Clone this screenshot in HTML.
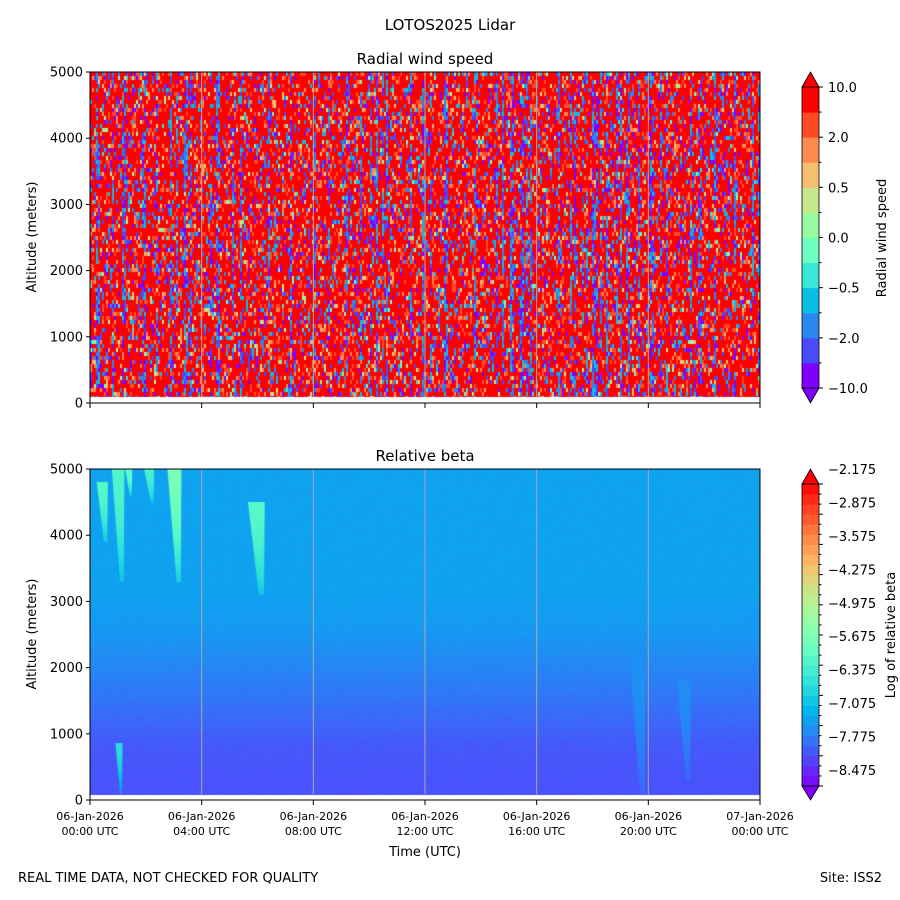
<!DOCTYPE html>
<html><head><meta charset="utf-8">
<style>
body{margin:0;background:#fff;}
#wrap{position:relative;width:900px;height:900px;font-family:"Liberation Sans","DejaVu Sans",sans-serif;}
svg text{font-family:"DejaVu Sans","Liberation Sans",sans-serif;}
canvas{position:absolute;}
</style></head><body>
<div id="wrap">
<canvas id="c1" width="670" height="331" style="left:90px;top:72px"></canvas>
<canvas id="c2" width="670" height="331" style="left:90px;top:469px"></canvas>
<svg id="s" width="900" height="900" style="position:absolute;left:0;top:0"></svg>
</div>
<script>
// ---- data ----
const timeTickLabels=["06-Jan-2026","06-Jan-2026","06-Jan-2026","06-Jan-2026","06-Jan-2026","06-Jan-2026","07-Jan-2026"];
const timeTickTimes=["00:00 UTC","04:00 UTC","08:00 UTC","12:00 UTC","16:00 UTC","20:00 UTC","00:00 UTC"];
const timeTickHours=[0,4,8,12,16,20,24];
const altTicks=[0,1000,2000,3000,4000,5000];
const windLevelColors=["#8000ff","#4a4af8","#2888f0","#0abfe6","#3ae6d6","#6cffc0","#98fba0","#c8e68a","#f4c070","#ff8a50","#ff4a26","#ff0000"];
const windTickLabels=["\u221210.0","\u22122.0","\u22120.5","0.0","0.5","2.0","10.0"];
const windLevelWeights=[5,4,3,2,1,0.8,0.8,1,2.5,5,9,66];
const betaTickLabels=["\u22128.475","\u22127.775","\u22127.075","\u22126.375","\u22125.675","\u22124.975","\u22124.275","\u22123.575","\u22122.875","\u22122.175"];
const betaBandAlt=[80,800,1300,2000,2600,3200,5000];
const betaBandValue=[-8.13,-8.08,-7.9,-7.65,-7.45,-7.37,-7.36];
const plumeStartHour=[0.3,0.85,1.3,2.0,2.85,5.75,0.95,19.4,21.1];
const plumeEndHour=[0.7,1.3,1.55,2.35,3.35,6.35,1.2,20.0,21.6];
const plumeTopAlt=[4800,5000,5000,5000,5000,4500,850,2300,1800];
const plumeBottomAlt=[3900,3300,4600,4500,3300,3100,100,100,300];
const plumeValue=[-6.0,-6.1,-5.9,-6.2,-5.6,-6.0,-6.6,-7.55,-7.6];

// ---- geometry ----
const X0=90,X1=760;
const xs=h=>X0+(h/24)*(X1-X0);
function ys(top){return a=>top+331-(a/5000)*331;}
const ys1=ys(72),ys2=ys(469);

function rainbow(t){t=Math.max(0,Math.min(1,t));
 const r=Math.min(1,Math.abs(2*t-0.5)),g=Math.sin(Math.PI*t),b=Math.cos(Math.PI*t/2);
 return [Math.round(255*r),Math.round(255*g),Math.round(255*b)];}
function betaColor(v){return rainbow((v+8.825)/6.65);}
function bgVal(a){let v=betaBandValue[betaBandValue.length-1];
 for(let b=0;b<betaBandAlt.length-1;b++){if(a>=betaBandAlt[b]&&a<betaBandAlt[b+1]){const f=(a-betaBandAlt[b])/(betaBandAlt[b+1]-betaBandAlt[b]);v=betaBandValue[b]+f*(betaBandValue[b+1]-betaBandValue[b]);break;}}
 if(a<betaBandAlt[0])v=betaBandValue[0];return v;}

// hash for texture only
function hh(i,j){let n=Math.imul(i,374761393)+Math.imul(j,668265263)|0;n=Math.imul(n^(n>>>13),1274126177);return ((n^(n>>>16))>>>0)/4294967296;}

// ---- top heatmap ----
(function(){
 const ctx=document.getElementById('c1').getContext('2d');
 ctx.fillStyle="#ff0000";ctx.fillRect(0,0,670,325);
 const tot=windLevelWeights.reduce((a,b)=>a+b,0);
 for(let i=0;i<335;i++){const colBias=hh(i,7)<0.22?0.5:0.03;
  for(let j=0;j<82;j++){
   let r=hh(i,j*3+1);let k;
   if(hh(i,Math.floor(j/3)+500)<colBias){k=Math.floor(hh(j,i+99)*4);}
   else{let acc=0;r*=tot;k=11;for(let q=0;q<12;q++){acc+=windLevelWeights[q];if(r<acc){k=q;break;}}}
   ctx.fillStyle=windLevelColors[k];ctx.fillRect(i*2,j*4,2,4);
  }}
 ctx.fillStyle="#fff";ctx.fillRect(0,325,670,6);
})();

// ---- bottom heatmap ----
(function(){
 const ctx=document.getElementById('c2').getContext('2d');
 const top=469;
 for(let y=0;y<331;y++){const a=(331-y)/331*5000;if(a<betaBandAlt[0]){ctx.fillStyle="#fff";ctx.fillRect(0,y,670,1);continue;}
  const v=bgVal(a);
  for(let x=0;x<670;x+=2){const vv=v+(hh(x,y)-0.5)*0.12;const c=betaColor(vv);ctx.fillStyle=`rgb(${c[0]},${c[1]},${c[2]})`;ctx.fillRect(x,y,2,1);}
 }
 for(let p=0;p<plumeValue.length;p++){
  const x0=xs(plumeStartHour[p])-X0,x1=xs(plumeEndHour[p])-X0;
  const y0=ys2(plumeTopAlt[p])-top,y1=ys2(plumeBottomAlt[p])-top;
  for(let y=Math.floor(y0);y<y1;y++){const f=(y-y0)/(y1-y0);const w=(x1-x0)*(1-0.7*f);const cx=x0+(x1-x0)*(0.35+0.3*f);
   const a=(331-y)/331*5000;const bg=bgVal(a);const v=plumeValue[p]+(bg-plumeValue[p])*0.7*f*f;
   const c=betaColor(v);ctx.fillStyle=`rgb(${c[0]},${c[1]},${c[2]})`;ctx.fillRect(cx-w/2,y,w,1);}
 }
})();

// ---- SVG overlay ----
const S=document.getElementById('s');const NS="http://www.w3.org/2000/svg";
function el(t,a,txt){const e=document.createElementNS(NS,t);for(const k in a)e.setAttribute(k,a[k]);if(txt!=null)e.textContent=txt;S.appendChild(e);return e;}
let e;
e=el('text',{x:450,y:30,'text-anchor':'middle','font-size':15},'LOTOS2025 Lidar');


function axes(top,title,nm,showX){
 const y=ys(top);
 e=el('text',{x:425,y:top-8,'text-anchor':'middle','font-size':15},title);
 
 
 timeTickHours.forEach(h=>{if(h>0&&h<24){e=el('line',{x1:xs(h),x2:xs(h),y1:top,y2:top+325,stroke:'#aaa','stroke-width':1});
  
  }});
 e=el('rect',{x:90,y:top,width:670,height:331,fill:'none',stroke:'#000','stroke-width':1});
 
 
 altTicks.forEach(a=>{el('line',{x1:86,x2:90,y1:y(a),y2:y(a),stroke:'#000'});
  e=el('text',{x:83,y:y(a)+4.5,'text-anchor':'end','font-size':13},String(a));
  
  });
 e=el('text',{x:0,y:0,'text-anchor':'middle','font-size':13,transform:`translate(36,${top+165}) rotate(-90)`},'Altitude (meters)');
 
 
 timeTickHours.forEach((h,i)=>{el('line',{x1:xs(h),x2:xs(h),y1:top+331,y2:top+336,stroke:'#000'});
  if(showX){e=el('text',{x:xs(h),y:top+351,'text-anchor':'middle','font-size':11},timeTickLabels[i]);
   
   
   e=el('text',{x:xs(h),y:top+366,'text-anchor':'middle','font-size':11},timeTickTimes[i]);
   
   }});
}
axes(72,'Radial wind speed','wind-panel',false);
axes(469,'Relative beta','beta-panel',true);
e=el('text',{x:425,y:856,'text-anchor':'middle','font-size':13},'Time (UTC)');



// colorbar 1
(function(){const cx=802,w=17,y0=87,y1=388,n=windLevelColors.length,h=(y1-y0)/n;
 windLevelColors.forEach((c,i)=>{e=el('rect',{x:cx,y:y1-(i+1)*h,width:w,height:h+0.5,fill:c});
  
  });
 el('polygon',{points:`${cx},${y0} ${cx+w/2},72 ${cx+w},${y0}`,fill:windLevelColors[n-1],stroke:'#000','stroke-width':0.8});
 el('polygon',{points:`${cx},${y1} ${cx+w/2},403 ${cx+w},${y1}`,fill:windLevelColors[0],stroke:'#000','stroke-width':0.8});
 el('rect',{x:cx,y:y0,width:w,height:y1-y0,fill:'none',stroke:'#000','stroke-width':0.8});
 for(let i=0;i<=n;i++){el('line',{x1:cx+w,x2:cx+w+(i%2?2.5:4),y1:y1-i*h,y2:y1-i*h,stroke:'#000'});}
 windTickLabels.forEach((t,i)=>{e=el('text',{x:cx+w+9,y:y1-i*2*h+5,'font-size':13},t);
  
  });
 e=el('text',{x:0,y:0,'text-anchor':'middle','font-size':13,transform:`translate(886,238) rotate(-90)`},'Radial wind speed');
 
 
})();
// colorbar 2
(function(){const cx=802,w=17,y0=484,y1=786,n=30,h=(y1-y0)/n;
 for(let i=0;i<n;i++){const c=rainbow((i+0.5)/n);e=el('rect',{x:cx,y:y1-(i+1)*h,width:w,height:h+0.5,fill:`rgb(${c})`});
  
  }
 el('polygon',{points:`${cx},${y0} ${cx+w/2},469 ${cx+w},${y0}`,fill:'#ff0000',stroke:'#000','stroke-width':0.8});
 el('polygon',{points:`${cx},${y1} ${cx+w/2},800 ${cx+w},${y1}`,fill:'#8000ff',stroke:'#000','stroke-width':0.8});
 el('rect',{x:cx,y:y0,width:w,height:y1-y0,fill:'none',stroke:'#000','stroke-width':0.8});
 for(let i=0;i<=n;i++){el('line',{x1:cx+w,x2:cx+w+(i%3?2.5:4),y1:y1-i*h,y2:y1-i*h,stroke:'#000'});}
 const step=(786-485)/9;
 betaTickLabels.forEach((t,i)=>{e=el('text',{x:cx+w+9,y:770+5-i*step,'font-size':13},t);
  
  });
 e=el('text',{x:0,y:0,'text-anchor':'middle','font-size':13,transform:`translate(895,635) rotate(-90)`},'Log of relative beta');
 
 
})();
e=el('text',{x:18,y:882,'font-size':13},'REAL TIME DATA, NOT CHECKED FOR QUALITY');


e=el('text',{x:882,y:882,'text-anchor':'end','font-size':13},'Site: ISS2');


</script>
</body></html>
